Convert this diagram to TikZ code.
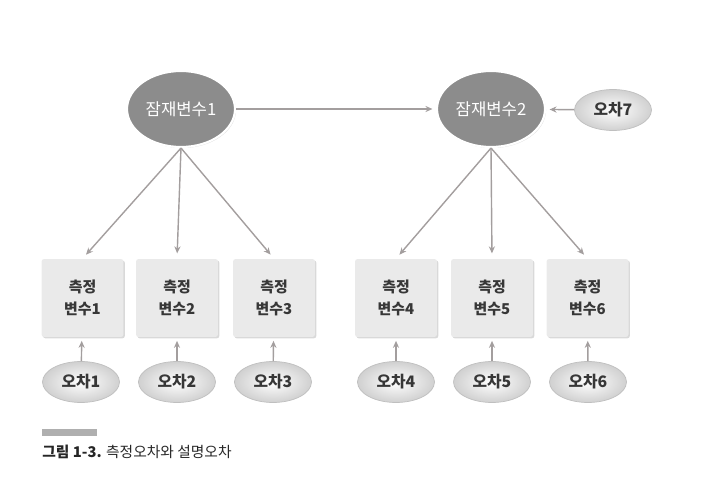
\documentclass[tikz,border=0pt]{standalone}
\usepackage{fontspec}
\setmainfont{Noto Sans CJK KR}
\definecolor{arrgray}{RGB}{163,158,158}
\definecolor{latfill}{RGB}{140,140,140}
\definecolor{boxfill}{RGB}{234,234,234}
\definecolor{errgray}{RGB}{208,208,208}
\definecolor{txtdark}{RGB}{55,55,55}
\definecolor{capbar}{RGB}{175,175,175}
\usetikzlibrary{arrows.meta,positioning,shapes.geometric,shadows}

\begin{document}
\begin{tikzpicture}[x=0.02cm, y=-0.02cm,
    latent/.style={ellipse, fill=latfill, draw=white, line width=1.2pt,
                   minimum width=2.16cm, minimum height=1.52cm, inner sep=0pt,
                   font=\fontsize{9.5}{11}\selectfont, text=white,
                   drop shadow={opacity=0.25, shadow xshift=0.6pt, shadow yshift=-0.6pt}},
    measbox/.style={rectangle, fill=boxfill, rounded corners=1.5pt,
                    minimum width=1.64cm, minimum height=1.56cm, inner sep=0pt,
                    align=center, font=\fontsize{8.5}{12.5}\selectfont\bfseries, text=txtdark,
                    drop shadow={opacity=0.3, shadow xshift=0.8pt, shadow yshift=-0.8pt}},
    errnode/.style={ellipse, draw=black!25, line width=0.4pt,
                    inner color=white, outer color=errgray,
                    minimum width=1.54cm, minimum height=0.82cm, inner sep=0pt,
                    font=\fontsize{9}{10}\selectfont\bfseries, text=txtdark},
    arr/.style={-{Stealth[length=4pt,width=3.5pt]}, line width=0.8pt, draw=arrgray},
  ]
    \useasboundingbox (0,0) rectangle (703,493);

    % --- Latent variables ---
    \node[latent] (lat1) at (181,109) {잠재변수1};
    \node[latent] (lat2) at (491,109) {잠재변수2};
    \node[errnode] (e7) at (613,110) {오차7};

    \draw[arr, shorten >=2pt] (lat1) -- (lat2);
    \draw[arr, shorten >=2pt] (e7) -- (lat2);

    % --- Measured variables ---
    \node[measbox] (m1) at (82.5,298) {측정\\변수1};
    \node[measbox] (m2) at (177,298) {측정\\변수2};
    \node[measbox] (m3) at (274,298) {측정\\변수3};
    \node[measbox] (m4) at (396,298) {측정\\변수4};
    \node[measbox] (m5) at (492,298) {측정\\변수5};
    \node[measbox] (m6) at (587.5,298) {측정\\변수6};

    % Loadings
    \draw[arr, shorten >=3pt] (lat1.south) -- (m1.north);
    \draw[arr, shorten >=3pt] (lat1.south) -- (m2.north);
    \draw[arr, shorten >=3pt] (lat1.south) -- (m3.north);
    \draw[arr, shorten >=3pt] (lat2.south) -- (m4.north);
    \draw[arr, shorten >=3pt] (lat2.south) -- (m5.north);
    \draw[arr, shorten >=3pt] (lat2.south) -- (m6.north);

    % --- Measurement errors ---
    \node[errnode] (e1) at (81,382) {오차1};
    \node[errnode] (e2) at (177,382) {오차2};
    \node[errnode] (e3) at (273,382) {오차3};
    \node[errnode] (e4) at (396,382) {오차4};
    \node[errnode] (e5) at (492,382) {오차5};
    \node[errnode] (e6) at (588,382) {오차6};

    \draw[arr, shorten >=2pt] (e1) -- (m1);
    \draw[arr, shorten >=2pt] (e2) -- (m2);
    \draw[arr, shorten >=2pt] (e3) -- (m3);
    \draw[arr, shorten >=2pt] (e4) -- (m4);
    \draw[arr, shorten >=2pt] (e5) -- (m5);
    \draw[arr, shorten >=2pt] (e6) -- (m6);

    % --- Caption ---
    \fill[capbar] (42,429) rectangle (97,436);
    \node[anchor=west, inner sep=0pt, font=\fontsize{8.4}{10}\selectfont, text=black!85] (cap) at (42,452)
      {\textbf{그림 1-3.} 측정오차와 설명오차};
  \end{tikzpicture}
\end{document}
